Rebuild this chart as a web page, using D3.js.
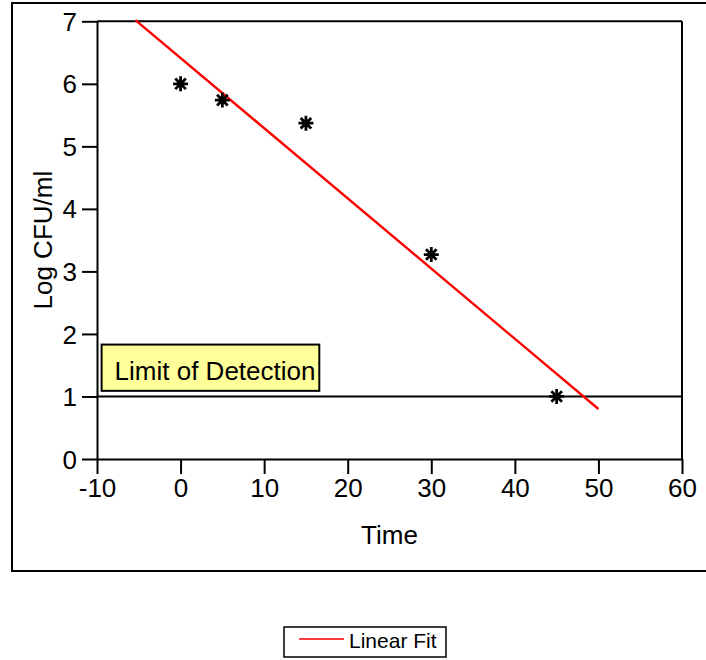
<!DOCTYPE html>
<html>
<head>
<meta charset="utf-8">
<script src="https://cdn.jsdelivr.net/npm/d3@7"></script>
<style>
  body { margin: 0; background: #fff; }
  svg text { font-family: Arial, "Liberation Sans", sans-serif; fill: #000; }
</style>
</head>
<body>
<div id="chart"></div>
<script>
// data
const times = [0, 5, 15, 30, 45];
const logCfu = [6.0, 5.74, 5.37, 3.27, 1.0];
const fitX = [-5.4, 50];          // linear fit endpoints
const fitY = [7.02, 0.8];
const limitOfDetection = 1;
const xTicks = [-10, 0, 10, 20, 30, 40, 50, 60];
const yTicks = [0, 1, 2, 3, 4, 5, 6, 7];

const W = 706, H = 660;

const svg = d3.select("#chart")
    .append("svg")
    .attr("width", W)
    .attr("height", H);

// outer frame (right side runs off the page)
svg.append("rect")
    .attr("x", 12).attr("y", 3)
    .attr("width", 720).attr("height", 568)
    .attr("fill", "none")
    .attr("stroke", "#000")
    .attr("stroke-width", 2);

const x = d3.scaleLinear().domain([-10, 60]).range([97, 682]);
const y = d3.scaleLinear().domain([0, 7]).range([459, 21.3]);

const fmt = v => String(v);   // plain hyphen minus, no decimals

// axes
const xAxis = svg.append("g")
    .attr("transform", `translate(0,${y(0)})`)
    .call(d3.axisBottom(x).tickValues(xTicks).tickFormat(fmt)
        .tickSize(15).tickPadding(5).tickSizeOuter(0));

const yAxis = svg.append("g")
    .attr("transform", `translate(${x(-10)},0)`)
    .call(d3.axisLeft(y).tickValues(yTicks).tickFormat(fmt)
        .tickSize(15).tickPadding(5).tickSizeOuter(0));

[xAxis, yAxis].forEach(g => {
    g.selectAll("path, line").attr("stroke", "#000").attr("stroke-width", 2);
    g.selectAll("text").style("font-size", "26px").attr("fill", "#000");
});
yAxis.selectAll("text").attr("dy", "0.35em");

// top and right frame of the plot
svg.append("line")
    .attr("x1", x(-10)).attr("x2", x(60))
    .attr("y1", y(7)).attr("y2", y(7))
    .attr("stroke", "#000").attr("stroke-width", 2);
svg.append("line")
    .attr("x1", x(60)).attr("x2", x(60))
    .attr("y1", y(7)).attr("y2", y(0))
    .attr("stroke", "#000").attr("stroke-width", 2);

// axis titles
svg.append("text")
    .attr("x", (x(-10) + x(60)) / 2)
    .attr("y", 544)
    .attr("text-anchor", "middle")
    .style("font-size", "26px")
    .text("Time");

svg.append("text")
    .attr("transform", `translate(43,${(y(0) + y(7)) / 2}) rotate(-90)`)
    .attr("text-anchor", "middle")
    .attr("dominant-baseline", "central")
    .style("font-size", "26px")
    .text("Log CFU/ml");

// limit of detection line
svg.append("line")
    .attr("x1", x(-10)).attr("x2", x(60))
    .attr("y1", y(limitOfDetection)).attr("y2", y(limitOfDetection))
    .attr("stroke", "#000").attr("stroke-width", 2);

// linear fit
const fitLine = d3.line().x(d => x(d[0])).y(d => y(d[1]));
svg.append("path")
    .attr("d", fitLine(fitX.map((v, i) => [v, fitY[i]])))
    .attr("fill", "none")
    .attr("stroke", "#ff0000")
    .attr("stroke-width", 2.4);

// asterisk markers
const r = 7.5, d = 5.3;
const starPath = `M0,${-r}V${r}M${-r},0H${r}M${-d},${-d}L${d},${d}M${-d},${d}L${d},${-d}`;
svg.selectAll(".pt")
    .data(times.map((t, i) => ({ t, v: logCfu[i] })))
    .enter()
    .append("path")
    .attr("class", "pt")
    .attr("transform", p => `translate(${x(p.t)},${y(p.v)})`)
    .attr("d", starPath)
    .attr("fill", "none")
    .attr("stroke", "#000")
    .attr("stroke-width", 2.8);

// annotation box
const boxX = x(-9.45), boxY = y(1.83);
svg.append("rect")
    .attr("x", boxX).attr("y", boxY)
    .attr("width", x(16.6) - boxX).attr("height", y(1.09) - boxY)
    .attr("fill", "#ffff99")
    .attr("stroke", "#000")
    .attr("stroke-width", 2);
svg.append("text")
    .attr("x", boxX + 13)
    .attr("y", boxY + 35)
    .style("font-size", "26px")
    .text("Limit of Detection");

// legend
const lg = svg.append("g").attr("transform", "translate(284,627)");
lg.append("rect")
    .attr("width", 162).attr("height", 30)
    .attr("fill", "#fff")
    .attr("stroke", "#000")
    .attr("stroke-width", 1.5);
lg.append("line")
    .attr("x1", 15).attr("x2", 60)
    .attr("y1", 12).attr("y2", 12)
    .attr("stroke", "#ff0000").attr("stroke-width", 1.5);
lg.append("text")
    .attr("x", 65).attr("y", 21)
    .style("font-size", "21px")
    .text("Linear Fit");
</script>
</body>
</html>
